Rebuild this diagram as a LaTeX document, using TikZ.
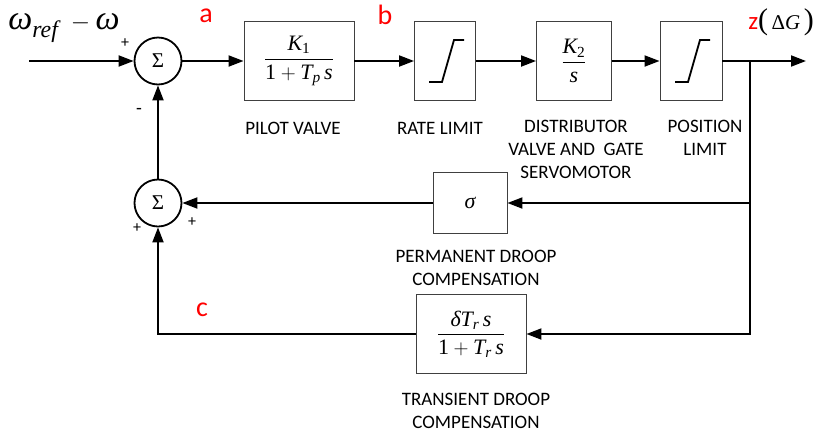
\documentclass[tikz,border=0pt]{standalone}
\usepackage{amsmath}
\usepackage{fontspec}
\setmainfont{Carlito}
\newfontfamily\tnr{Liberation Serif}
\usetikzlibrary{calc, positioning}
\usetikzlibrary{arrows.meta}

\newcommand{\ti}[1]{\text{\tnr\itshape #1}}
\newcommand{\tu}[1]{\text{\tnr #1}}

\tikzset{
  blk/.style={draw=black!75, line width=0.9pt, fill=white, inner sep=0pt},
  sumnode/.style={draw, circle, line width=1.8pt, minimum size=47pt, inner sep=0pt,
    font=\fontsize{21}{21}\selectfont},
  arr/.style={line width=1.9pt, -{Triangle[length=15pt,width=11pt]}},
  wire/.style={line width=1.9pt},
  lab/.style={align=center, font=\fontsize{19}{23}\selectfont},
  redlab/.style={text=red, font=\fontsize{28}{28}\selectfont},
  mth/.style={font=\fontsize{22}{22}\selectfont}
}

\newcommand{\satsym}[1]{%
  \draw[line width=1.8pt] ($ (#1)+(-16,21) $) -- ($ (#1)+(-3,21) $)
    -- ($ (#1)+(9,-21) $) -- ($ (#1)+(19,-21) $);}
\newcommand{\bigpar}[1]{{\tnr\fontsize{30}{30}\selectfont #1}}

\begin{document}
\begin{tikzpicture}[x=1pt,y=-1pt]
\useasboundingbox (0,0) rectangle (815,432);
% forward path
\node[sumnode] (S1) at (158,61) {\tnr Σ};
\node[blk, mth, minimum width=110, minimum height=79] (PV) at (299,61)
  {$\dfrac{\ti{K}_{\tu{1}}}{\tu{1}+\ti{T}_{\ti{p}}\,\ti{s}}$};
\node[blk, minimum width=61, minimum height=79] (RL) at (445,61) {};
\node[blk, mth, minimum width=75, minimum height=79] (DV) at (574,61)
  {$\dfrac{\ti{K}_{\tu{2}}}{\ti{s}}$};
\node[blk, minimum width=62, minimum height=79] (PL) at (691,61) {};
\satsym{RL}
\satsym{PL}
% feedback path
\node[sumnode] (S2) at (158,203) {\tnr Σ};
\node[blk, mth, minimum width=74, minimum height=61] (SG) at (470,203) {\tnr\itshape σ};
\node[blk, mth, minimum width=110, minimum height=79] (TD) at (471,334)
  {$\dfrac{\ti{δ}\ti{T}_{\ti{r}}\,\ti{s}}{\tu{1}+\ti{T}_{\ti{r}}\,\ti{s}}$};
\coordinate (in) at (29,61);
\coordinate (br) at (750,61);
\coordinate (out) at (806,61);
% connectors
\draw[arr] (in) -- (S1);
\draw[arr] (S1) -- (PV);
\draw[arr] (PV) -- (RL);
\draw[arr] (RL) -- (DV);
\draw[arr] (DV) -- (PL);
\draw[arr] (PL) -- (out);
\draw[arr] (br) |- (SG.east);
\draw[arr] (br) |- (TD.east);
\draw[arr] (SG) -- (S2);
\draw[arr] (TD.west) -| (S2.south);
\draw[arr] (S2) -- (S1);
% signs and labels
\node[font=\fontsize{34}{34}\selectfont] (win) at (64,28)
  {$\ti{ω}_{\ti{ref}}\;-\ti{ω}$};
\node[font=\fontsize{16}{16}\selectfont] (p1) at (125,43) {+};
\node[font=\fontsize{19}{19}\selectfont] (m1) at (139,111) {-};
\node[font=\fontsize{16}{16}\selectfont] (p2) at (137,228) {+};
\node[font=\fontsize{16}{16}\selectfont] (p3) at (192,222) {+};
\node[redlab] (la) at (206,16) {a};
\node[redlab] (lb) at (385,15) {b};
\node[redlab] (lc) at (202,310) {c};
\node[anchor=east, inner sep=0pt] (lz) at (814,22)
  {\textcolor{red}{\fontsize{25}{25}\selectfont z}\bigpar{(}%
  {\tnr\fontsize{21}{21}\selectfont\,Δ\itshape G\,}\bigpar{)}};
\node[lab] (tPV) at (293,128) {PILOT VALVE};
\node[lab] (tRL) at (440,128) {RATE LIMIT};
\node[lab] (tDV) at (576,149) {DISTRIBUTOR\\VALVE AND\ \ GATE\\SERVOMOTOR};
\node[lab] (tPL) at (705,138) {POSITION\\LIMIT};
\node[lab] (tSG) at (476,268) {PERMANENT DROOP\\COMPENSATION};
\node[lab] (tTD) at (476,411) {TRANSIENT DROOP\\COMPENSATION};
\end{tikzpicture}
\end{document}
